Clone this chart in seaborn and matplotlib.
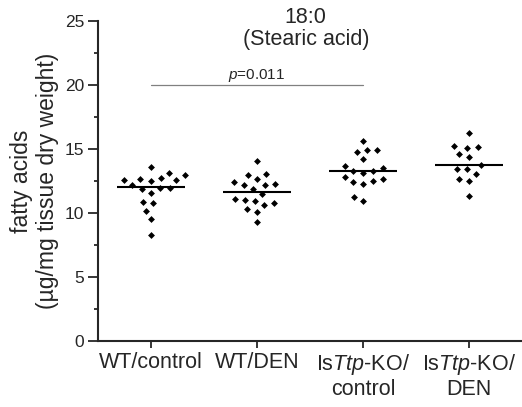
import pandas as pd
import seaborn as sns
import matplotlib.pyplot as plt
from matplotlib.markers import MarkerStyle
from matplotlib.ticker import MultipleLocator
from matplotlib.transforms import Affine2D

# values (ug/mg tissue dry weight)
groups = ['WT/control', 'WT/DEN', 'IsTtp-KO/control', 'IsTtp-KO/DEN']
wt_control = [12.58, 12.73, 12.47, 13.57, 12.58, 13.15, 12.94, 12.63, 12.16,
              11.93, 11.93, 11.59, 11.88, 10.76, 10.89, 10.18, 9.50, 8.31]
wt_den = [14.09, 12.97, 13.05, 12.66, 12.21, 12.42, 12.27, 12.19, 11.85,
          11.48, 11.09, 10.91, 11.04, 10.76, 10.63, 10.29, 10.10, 9.27]
ko_control = [15.63, 14.92, 14.92, 14.79, 14.19, 13.67, 13.25, 13.49, 13.31,
              13.10, 12.84, 12.50, 12.40, 12.63, 12.24, 11.28, 10.96]
ko_den = [16.22, 15.10, 15.23, 15.16, 14.35, 14.58, 13.46, 13.72, 13.44,
          13.07, 12.50, 12.63, 11.33]
tick_labels = ['WT/control', 'WT/DEN',
               'Is$\\mathit{Ttp}$-KO/\ncontrol', 'Is$\\mathit{Ttp}$-KO/\nDEN']
comparison = ('WT/control', 'IsTtp-KO/control')
p_label = '$p$=0.011'
p_height = 20

df = pd.DataFrame({
    'group': [groups[0]] * len(wt_control) + [groups[1]] * len(wt_den)
             + [groups[2]] * len(ko_control) + [groups[3]] * len(ko_den),
    'value': wt_control + wt_den + ko_control + ko_den,
})

sns.set_style('ticks')
plt.rcParams['font.family'] = ['Liberation Sans', 'DejaVu Sans']
plt.rcParams['mathtext.fontset'] = 'custom'
plt.rcParams['mathtext.rm'] = 'Liberation Sans'
plt.rcParams['mathtext.it'] = 'Liberation Sans:italic'

fig = plt.figure(figsize=(5.22, 4.07), dpi=100)
ax = fig.add_axes([98 / 522, 1 - 341 / 407, 424 / 522, 320 / 407])

# median line only
sns.boxplot(data=df, x='group', y='value', order=groups, ax=ax, width=0.65,
            showbox=False, showcaps=False, showfliers=False, whis=0,
            whiskerprops={'visible': False},
            medianprops={'color': 'black', 'linewidth': 1.5})

# small diamonds, swarm spacing from the larger nominal size
diamond = MarkerStyle('D', transform=Affine2D().scale(0.5))
sns.swarmplot(data=df, x='group', y='value', order=groups, ax=ax,
              color='black', marker=diamond, size=7, linewidth=0)

ax.set_ylim(0, 25)
ax.set_xlim(-0.5, 3.5)
ax.yaxis.set_major_locator(MultipleLocator(5))
ax.yaxis.set_minor_locator(MultipleLocator(2.5))
ax.set_xticks(range(len(groups)))
ax.set_xticklabels(tick_labels, fontsize=15.5, linespacing=1.1)
ax.tick_params(axis='y', which='major', length=7, width=1.3, labelsize=12.5, pad=3)
ax.tick_params(axis='y', which='minor', length=3, width=1.3)
ax.tick_params(axis='x', length=5, width=1.3, pad=3)
ax.set_xlabel('')
ax.set_ylabel('fatty acids\n(µg/mg tissue dry weight)', fontsize=16.5,
              linespacing=1.15, labelpad=4)
sns.despine(ax=ax)
for side in ['left', 'bottom']:
    ax.spines[side].set_linewidth(1.5)

# significance bar
x0, x1 = groups.index(comparison[0]), groups.index(comparison[1])
ax.plot([x0, x1], [p_height, p_height], color='#808080', lw=0.9)
ax.text((x0 + x1) / 2, p_height + 0.05, p_label, ha='center', va='bottom',
        fontsize=11)

ax.text(1.46, 24.4, '18:0\n(Stearic acid)', ha='center', va='center',
        fontsize=15.5, linespacing=1.1)

fig.savefig('out.png', dpi=100)
